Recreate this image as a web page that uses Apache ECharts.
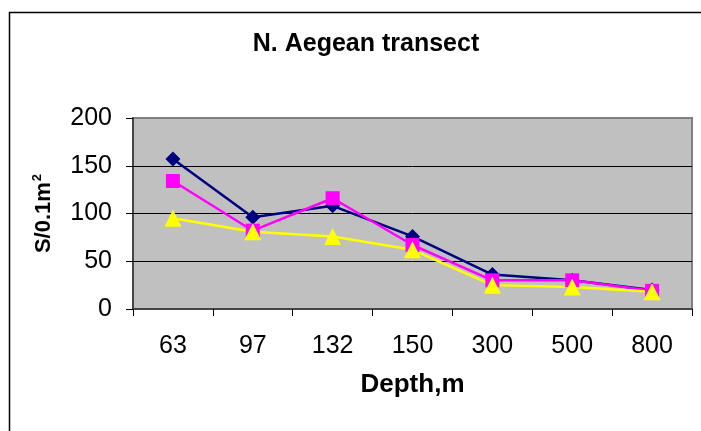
<!DOCTYPE html>
<html>
<head>
<meta charset="utf-8">
<script src="https://cdn.jsdelivr.net/npm/echarts@6/dist/echarts.min.js"></script>
<style>
	html, body { margin: 0; padding: 0; background: #fff; }
	#chart { width: 701px; height: 431px; }
</style>
</head>
<body>
<div id="chart"></div>
<script>
var depths = ['63', '97', '132', '150', '300', '500', '800'];
var navySeries = [157, 96, 108, 76, 36, 30, 20];
var pinkSeries = [134, 82, 116, 67, 30, 30, 19];
var yellowSeries = [95, 81, 76, 62, 25, 23, 18];
var yTicks = [0, 50, 100, 150, 200];

var chart = echarts.init(document.getElementById('chart'));
chart.setOption({
	animation: false,
	textStyle: {
		fontFamily: 'Liberation Sans, Arial, sans-serif'
	},
	title: {
		text: 'N. Aegean transect',
		left: 361,
		top: 27,
		textAlign: 'center',
		textStyle: {
			fontSize: 25,
			fontWeight: 'bold',
			color: '#000'
		}
	},
	graphic: [{
		type: 'rect',
		shape: { x: 9.5, y: 12.5, width: 900, height: 900 },
		style: { fill: 'none', stroke: '#000', lineWidth: 1.5 },
		silent: true
	}],
	grid: {
		left: 133,
		top: 118,
		right: 9,
		bottom: 122,
		show: true,
		backgroundColor: '#c0c0c0',
		borderColor: '#808080',
		borderWidth: 2
	},
	xAxis: {
		type: 'category',
		data: depths,
		boundaryGap: true,
		name: 'Depth,m',
		nameLocation: 'middle',
		nameGap: 63,
		nameTextStyle: {
			fontSize: 26,
			fontWeight: 'bold',
			color: '#000'
		},
		axisLine: {
			lineStyle: { color: '#333', width: 1.5 }
		},
		axisTick: {
			show: true,
			length: 7,
			lineStyle: { color: '#000' }
		},
		axisLabel: {
			fontSize: 25,
			color: '#000',
			margin: 25
		},
		splitLine: { show: false }
	},
	yAxis: {
		type: 'value',
		min: yTicks[0],
		max: yTicks[yTicks.length - 1],
		interval: 50,
		name: '{b|S/0.1m}{s|2}',
		nameLocation: 'middle',
		nameRotate: 90,
		nameGap: 77,
		nameTextStyle: {
			color: '#000',
			rich: {
				b: { fontSize: 22, fontWeight: 'bold', color: '#000' },
				s: { fontSize: 13, fontWeight: 'bold', color: '#000', verticalAlign: 'top', padding: [0, 0, 12, 1] }
			}
		},
		axisLine: {
			show: true,
			lineStyle: { color: '#333', width: 1.5 }
		},
		axisTick: {
			show: true,
			length: 7,
			lineStyle: { color: '#000' }
		},
		axisLabel: {
			fontSize: 25,
			color: '#000',
			margin: 21
		},
		splitLine: {
			show: true,
			lineStyle: {
				color: ['#808080', '#000', '#000', '#000', '#808080'],
				width: 1
			}
		}
	},
	series: [{
		name: 'navy',
		type: 'line',
		data: navySeries,
		symbol: 'diamond',
		symbolSize: 15,
		lineStyle: { color: '#000080', width: 2.5 },
		itemStyle: { color: '#000080' }
	}, {
		name: 'pink',
		type: 'line',
		data: pinkSeries,
		symbol: 'rect',
		symbolSize: 14,
		lineStyle: { color: '#ff00ff', width: 2.5 },
		itemStyle: { color: '#ff00ff' }
	}, {
		name: 'yellow',
		type: 'line',
		data: yellowSeries,
		symbol: 'triangle',
		symbolSize: 17,
		lineStyle: { color: '#ffff00', width: 2.5 },
		itemStyle: { color: '#ffff00' }
	}]
});
</script>
</body>
</html>
